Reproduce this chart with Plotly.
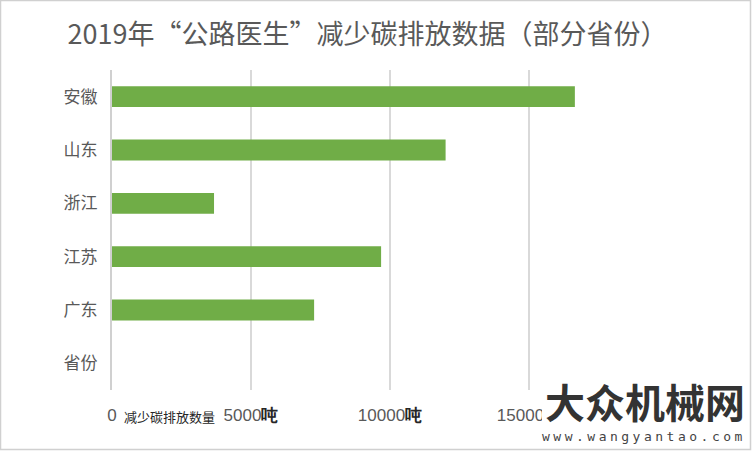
import plotly.graph_objects as go

# ---- data ----
provinces = ["安徽", "山东", "浙江", "江苏", "广东", "省份"]
reduction_tons = [16650, 12000, 3670, 9680, 7270, None]
tick_values = [0, 5000, 10000, 15000, 20000]
tick_labels = ["0", "5000", "10000", "15000", ""]
tick_unit = "吨"
title_text = "2019年“公路医生”减少碳排放数据（部分省份）"
axis_title_text = "减少碳排放数量"
watermark_main = "大众机械网"
watermark_url = "www.wangyantao.com"

W, H = 752, 452
L, R, T, B = 112, 84, 70, 62
PW, PH = W - L - R, H - T - B

def px(x):
    return (x - L) / PW

def py(y):
    return (H - B - y) / PH

ticktext = [
    t if (v == 0 or t == "") else f"{t}<span style='color:#262626'><b>{tick_unit}</b></span>"
    for t, v in zip(tick_labels, tick_values)
]

fig = go.Figure(
    go.Bar(
        y=provinces,
        x=reduction_tons,
        orientation="h",
        marker=dict(color="#70AD47", line=dict(width=0)),
        width=0.39,
        hoverinfo="x+y",
    )
)

fig.update_layout(
    width=W,
    height=H,
    margin=dict(l=L, r=R, t=T, b=B),
    paper_bgcolor="white",
    plot_bgcolor="white",
    showlegend=False,
    font=dict(family="Noto Sans CJK SC, sans-serif", color="#595959"),
    title=dict(
        text=title_text,
        x=(72 + 663) / 2 / W,
        xanchor="center",
        y=1 - 35 / H,
        yanchor="middle",
        font=dict(family="Noto Sans CJK SC, sans-serif", size=27, color="#595959"),
    ),
    xaxis=dict(
        range=[0, 20000],
        tickvals=tick_values,
        ticktext=ticktext,
        showgrid=True,
        gridcolor="#d9d9d9",
        gridwidth=2,
        zeroline=False,
        showline=False,
        ticks="",
        ticklabelstandoff=13,
        tickfont=dict(family="Liberation Sans, sans-serif", size=17, color="#595959"),
        fixedrange=True,
    ),
    yaxis=dict(
        categoryorder="array",
        categoryarray=provinces,
        autorange="reversed",
        showgrid=False,
        zeroline=False,
        showline=True,
        linecolor="#d0d0d0",
        linewidth=2,
        ticks="",
        ticklabelstandoff=9,
        tickfont=dict(family="Noto Sans CJK SC, sans-serif", size=17, color="#595959"),
        fixedrange=True,
    ),
    shapes=[
        dict(type="rect", xref="paper", yref="paper",
             x0=px(0.5), x1=px(750.5), y0=py(449.5), y1=py(0.5),
             line=dict(color="#d0d0d0", width=1.5), fillcolor="rgba(0,0,0,0)", layer="above"),
        dict(type="rect", xref="paper", yref="paper",
             x0=px(542), x1=px(749), y0=py(448), y1=py(376),
             line=dict(width=0), fillcolor="white", layer="above"),
    ],
    annotations=[
        dict(text=axis_title_text, xref="paper", yref="paper",
             x=px(169.5), y=py(416), xanchor="center", yanchor="middle",
             showarrow=False,
             font=dict(family="Noto Sans CJK SC, sans-serif", size=13, color="#262626")),
        dict(text=f"<b>{watermark_main}</b>", xref="paper", yref="paper",
             x=px(645), y=py(401), xanchor="center", yanchor="middle",
             showarrow=False,
             font=dict(family="Noto Sans CJK SC, sans-serif", size=40, color="#333333")),
        dict(text=f"<span style='letter-spacing:3.5px'>{watermark_url}</span>", xref="paper", yref="paper",
             x=px(644), y=py(436), xanchor="center", yanchor="middle",
             showarrow=False,
             font=dict(family="DejaVu Sans Mono, monospace", size=13, color="#444444")),
    ],
)

fig.write_html("out.html")
